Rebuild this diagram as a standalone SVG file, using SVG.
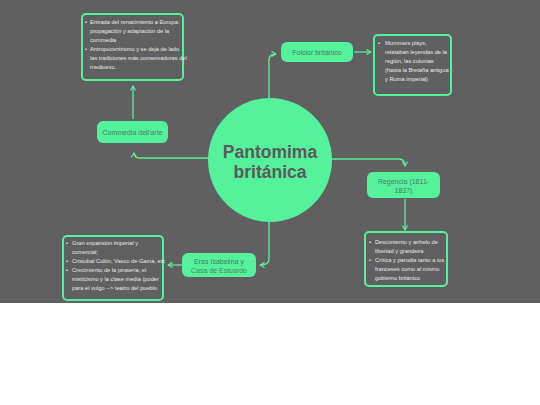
<svg xmlns="http://www.w3.org/2000/svg" width="540" height="405" viewBox="0 0 540 405">
<defs>
<marker id="ah" viewBox="0 0 10 10" refX="8" refY="5" markerWidth="5" markerHeight="5" orient="auto">
<path d="M1,1 L8,5 L1,9" fill="none" stroke="#55f29c" stroke-width="1.8"/>
</marker>
<style>
.bg{fill:#606060}
.node{fill:#55f29c}
.lbl{font-family:"Liberation Sans",Arial,sans-serif;font-size:7px;fill:#4e7a62;text-anchor:middle}
.box{fill:#606060;stroke:#55f29c;stroke-width:2}
.txt{font-family:"Liberation Sans",Arial,sans-serif;font-size:5.7px;fill:#e8e8e8}
.con{fill:none;stroke:#55f29c;stroke-width:1.3;marker-end:url(#ah)}
.title{font-family:"Liberation Sans",Arial,sans-serif;font-size:17.5px;font-weight:bold;fill:#5a5a5a;text-anchor:middle}
</style>
</defs>
<rect x="0" y="0" width="540" height="405" fill="#ffffff"/>
<rect class="bg" x="0" y="0" width="540" height="303"/>
<g id="connectors">
<path class="con" d="M209,158 L140,158 Q134,158 134,153"/>
<path class="con" d="M133,119 L133,86"/>
<path class="con" d="M269,98 L269,60 Q269,54 276,54"/>
<path class="con" d="M354,52 L371,52"/>
<path class="con" d="M331,159 L399,159 Q405,159 405,166"/>
<path class="con" d="M405,199 L405,230"/>
<path class="con" d="M269,222 L269,259 Q269,265 260,265"/>
<path class="con" d="M182,265 L168,265"/>
</g>
<g id="center">
<circle class="node" cx="270" cy="160" r="62"/>
<text class="title" x="270" y="158">Pantomima</text>
<text class="title" x="270" y="178">británica</text>
</g>
<g id="commedia">
<rect class="node" x="97" y="121" width="71" height="22" rx="6"/>
<text class="lbl" x="132.5" y="134.5">Commedia dell'arte</text>
</g>
<g id="commedia-notes">
<rect class="box" x="82" y="14" width="101" height="66" rx="4"/>
<text class="txt" x="85" y="24">•</text>
<text class="txt" x="90" y="24">Entrada del renacimiento a Europa:</text>
<text class="txt" x="90" y="33">propagación y adaptación de la</text>
<text class="txt" x="90" y="42">commedia</text>
<text class="txt" x="85" y="51">•</text>
<text class="txt" x="90" y="51">Antropocentrismo y se deja de lado</text>
<text class="txt" x="90" y="60">las tradiciones más conservadoras del</text>
<text class="txt" x="90" y="69">medioevo.</text>
</g>
<g id="folclor">
<rect class="node" x="281" y="42" width="72" height="20" rx="6"/>
<text class="lbl" x="317" y="54.5">Folclor británico</text>
</g>
<g id="folclor-notes">
<rect class="box" x="374" y="35" width="77" height="60" rx="4"/>
<text class="txt" x="378" y="45">•</text>
<text class="txt" x="385" y="45">Mummers plays,</text>
<text class="txt" x="385" y="54">relataban leyendas de la</text>
<text class="txt" x="385" y="63">región, las colonias</text>
<text class="txt" x="385" y="72">(hasta la Bretaña antigua</text>
<text class="txt" x="385" y="81">y Roma imperial)</text>
</g>
<g id="regencia">
<rect class="node" x="367" y="172" width="73" height="26" rx="6"/>
<text class="lbl" x="403.5" y="184">Regencia (1811-</text>
<text class="lbl" x="403.5" y="193">1837)</text>
</g>
<g id="regencia-notes">
<rect class="box" x="365" y="232" width="82" height="54" rx="4"/>
<text class="txt" x="369" y="244">•</text>
<text class="txt" x="375" y="244">Descontento y anhelo de</text>
<text class="txt" x="375" y="253">libertad y grandeza</text>
<text class="txt" x="369" y="262">•</text>
<text class="txt" x="375" y="262">Crítica y parodia tanto a los</text>
<text class="txt" x="375" y="271">franceses como al mismo</text>
<text class="txt" x="375" y="280">gobierno británico</text>
</g>
<g id="eras">
<rect class="node" x="182" y="253" width="74" height="24" rx="6"/>
<text class="lbl" x="219" y="264">Eras Isabelina y</text>
<text class="lbl" x="219" y="273">Casa de Estuardo</text>
</g>
<g id="eras-notes">
<rect class="box" x="63" y="236" width="100" height="64" rx="4"/>
<text class="txt" x="66" y="245">•</text>
<text class="txt" x="72" y="245">Gran expansión imperial y</text>
<text class="txt" x="72" y="254">comercial;</text>
<text class="txt" x="66" y="263">•</text>
<text class="txt" x="72" y="263">Cristobal Colón, Vasco de Gama, etc</text>
<text class="txt" x="66" y="272">•</text>
<text class="txt" x="72" y="272">Crecimiento de la piratería, el</text>
<text class="txt" x="72" y="281">misticismo y la clase media (poder</text>
<text class="txt" x="72" y="290">para el vulgo --&gt; teatro del pueblo</text>
</g>
</svg>
